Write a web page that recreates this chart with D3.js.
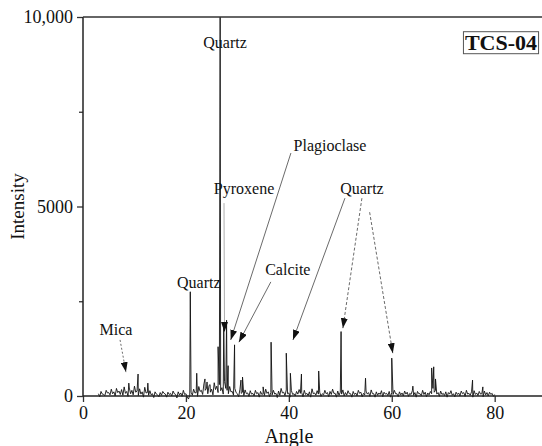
<!DOCTYPE html>
<html>
<head>
<meta charset="utf-8">
<script src="https://cdn.jsdelivr.net/npm/d3@7"></script>
<style>
body { margin: 0; background: #fff; }
text { font-family: "Liberation Serif", "Times New Roman", serif; }
</style>
</head>
<body>
<script>

var width = 542,
height = 446,
marginTop = 17,
marginLeft = 83,
marginBottom = 50;

// baseline noise, read every 0.5 degree from 3 to 80
var noiseStart = 3, noiseStep = 0.5;
var noise = [
 60, 120, 40, 150, 90, 180, 110, 200, 130, 170, 240, 120, 210, 150, 260, 130, 190, 110, 230, 90,
 140, 60, 110, 30, 90, 120, 50, 100, 70, 130, 40, 110, 80, 150, 60, -80,
 100, 180, 90, 250, 150, 320, 200, 280, 180, 350, 260, 300, 220, 380, 150, 250, 120, 200, 60, 180, 100, 160, 80, 140,
 70, 150, 90, 120, 60, 180, 110, 90, 150, 70, 130, 200, 100, 160, 80, 140, 60, 120, 170, 90, 150, 70, 110, 190, 80, 140, 100, 60, 150, 90, 120, 180, 70, 130, 100, 160,
 90, 140, 60, 120, 80, 150, 100, 70, 130, 90, 160, 60, 110, 80, 140, 100, 70, 120, 90, 150, 60, 110, 80, 130, 100, 70, 140, 90, 120, 60, 150, 100,
 80, 120, 200, 150, 90, 130, 70, 110, 90, 140, 60, 100, 80, 130, 90, 150, 70, 110, 140, 80, 120, 60, 130, 90, 100, 70, 40
];
// the in-between readings, from 3.25 to 79.75
var noiseMid = [
 -20, 50, 10, 80, 30, 60, 0, 90, 40, 20, 70, -10, 60, 30, 100, 10, 50, -30, 80, 20,
 30, -40, 50, -20, 20, 70, -30, 40, 0, 60, -50, 30, -10, 40, -20, 20,
 20, 80, -10, 120, 40, 150, 60, 100, 30, 170, 90, 140, 50, 200, 60, 110, 20, 90, -20, 70, 10, 60, -10, 50,
 0, 60, -30, 40, 10, 70, -20, 30, 50, -40, 20, 80, 10, 60, -30, 40, 0, 50, 70, -20, 40, 10, -30, 60, 20, 50, -10, 30, 60, -20, 40, 70, -30, 20, 50, 0,
 20, 60, -30, 40, 0, 70, -20, 30, 50, -10, 60, -30, 20, 40, -20, 50, 10, -30, 40, 60, -20, 30, 0, 50, -10, 40, 20, -30, 60, 10, 40, -20,
 30, 60, 100, 50, -10, 40, 10, -30, 50, 20, -20, 40, 0, 60, -10, 50, 20, -30, 40, 10, 50, -20, 30, 0, 40, -10
];

// peaks: angle, intensity
var peakAngles = [8.9, 10.7, 12.6, 20.85, 22.1, 23.7, 24.1, 24.7, 26.25, 26.65, 27.35, 27.9, 28.2, 29.45, 30.7, 31.0,
 35.0, 36.55, 39.5, 40.3, 42.45, 45.8, 50.15, 54.9, 60.0, 64.1, 67.75, 68.15, 68.5, 75.7, 77.7];
var peakValues = [340, 580, 340, 2750, 600, 450, 370, 300, 1300, 10000, 1800, 2000, 800, 1350, 420, 500,
 240, 1420, 1130, 600, 580, 660, 1700, 470, 1000, 260, 740, 770, 450, 420, 240];

var xTicks = [0, 20, 40, 60, 80];
var yTicks = [0, 5000, 10000];
var yMinorTicks = [2500, 7500];

// labels: text, angle, intensity of text centre
var labelText = ["Quartz", "Quartz", "Pyroxene", "Plagioclase", "Calcite", "Quartz", "Mica"];
var labelAngle = [27.6, 22.5, 31.3, 48.0, 39.8, 54.2, 6.4];
var labelValue = [9330, 3010, 5480, 6620, 3340, 5480, 1760];

// arrows: from (angle, intensity) to (angle, intensity)
var arrowFrom = [[7.2, 1480], [27.4, 5090], [40.4, 6410], [36.5, 3010], [50.9, 5220], [54.2, 5220], [55.7, 4850]];
var arrowTo = [[8.35, 630], [27.5, 1690], [28.7, 1480], [30.3, 1420], [40.8, 1480], [50.5, 1790], [60.2, 1130]];
var arrowDash = ["2,2", null, null, null, null, "3,2", "3,2"];

var spectrum = [];
noise.forEach(function (v, i) {
    spectrum.push({ a: noiseStart + i * noiseStep, v: v });
});
noiseMid.forEach(function (v, i) {
    spectrum.push({ a: noiseStart + noiseStep / 2 + i * noiseStep, v: v });
});
peakAngles.forEach(function (a, i) {
    spectrum.push({ a: a, v: peakValues[i] });
});
spectrum.sort(function (p, q) { return p.a - q.a; });

var x = d3.scaleLinear().domain([0, 89]).range([marginLeft, width - 1]);
var y = d3.scaleLinear().domain([0, 10000]).range([height - marginBottom, marginTop]);

var svg = d3.select("body").append("svg")
 .attr("width", width)
 .attr("height", height);

var defs = svg.append("defs");
defs.append("marker")
 .attr("id", "head")
 .attr("viewBox", "0 0 10 7")
 .attr("refX", 10)
 .attr("refY", 3.5)
 .attr("markerUnits", "userSpaceOnUse")
 .attr("markerWidth", 10)
 .attr("markerHeight", 7)
 .attr("orient", "auto")
 .append("path")
 .attr("d", "M0,0L10,3.5L0,7Z")
 .attr("fill", "#111");

// spectrum
svg.append("path")
 .datum(spectrum)
 .attr("fill", "none")
 .attr("stroke", "#111")
 .attr("stroke-width", 0.9)
 .attr("d", d3.line()
   .x(function (d) { return x(d.a); })
   .y(function (d) { return y(d.v); }));

// axes
var xAxis = svg.append("g")
 .attr("transform", "translate(0," + y(0) + ")")
 .call(d3.axisBottom(x).tickValues(xTicks).tickSize(6).tickPadding(4));
var yAxis = svg.append("g")
 .attr("transform", "translate(" + marginLeft + ",0)")
 .call(d3.axisLeft(y).tickValues(yTicks).tickSize(6).tickPadding(4)
   .tickFormat(function (d) { return d == 10000 ? "10,000" : d; }));
svg.append("g")
 .attr("transform", "translate(" + marginLeft + ",0)")
 .call(d3.axisLeft(y).tickValues(yMinorTicks).tickSize(4).tickFormat(""))
 .select(".domain").remove();

[xAxis, yAxis].forEach(function (g) {
    g.select(".domain").remove();
    g.selectAll("text")
     .attr("fill", "#111")
     .style("font-family", "'Liberation Serif', serif")
     .style("font-size", "18px");
});
svg.selectAll("g line").attr("stroke", "#333").attr("stroke-width", 1.3);

// axis lines and top frame
svg.append("line")
 .attr("x1", marginLeft).attr("x2", width)
 .attr("y1", y(0)).attr("y2", y(0))
 .attr("stroke", "#222").attr("stroke-width", 1.5);
svg.append("line")
 .attr("x1", marginLeft).attr("x2", marginLeft)
 .attr("y1", y(0)).attr("y2", y(10000))
 .attr("stroke", "#222").attr("stroke-width", 1.5);
svg.append("line")
 .attr("x1", marginLeft).attr("x2", width)
 .attr("y1", y(10000)).attr("y2", y(10000))
 .attr("stroke", "#333").attr("stroke-width", 1.3);

// axis titles
svg.append("text")
 .attr("x", x(40))
 .attr("y", height - 3)
 .attr("text-anchor", "middle")
 .style("font-size", "20px")
 .attr("fill", "#111")
 .text("Angle");
svg.append("text")
 .attr("transform", "translate(24," + y(5000) + ") rotate(-90)")
 .attr("text-anchor", "middle")
 .style("font-size", "19px")
 .attr("fill", "#111")
 .text("Intensity");

// annotation arrows
arrowFrom.forEach(function (f, i) {
    svg.append("line")
     .attr("x1", x(f[0])).attr("y1", y(f[1]))
     .attr("x2", x(arrowTo[i][0])).attr("y2", y(arrowTo[i][1]))
     .attr("stroke", i == 1 ? "#999" : "#444")
     .attr("stroke-width", 0.8)
     .attr("stroke-dasharray", arrowDash[i])
     .attr("marker-end", "url(#head)");
});

// annotation labels
labelText.forEach(function (t, i) {
    svg.append("text")
     .attr("x", x(labelAngle[i]))
     .attr("y", y(labelValue[i]))
     .attr("dy", "0.35em")
     .attr("text-anchor", "middle")
     .style("font-size", "16px")
     .attr("fill", "#111")
     .text(t);
});

// sample name box
var tag = svg.append("text")
 .attr("x", width - 41)
 .attr("y", 42)
 .attr("dy", "0.35em")
 .attr("text-anchor", "middle")
 .style("font-size", "22px")
 .style("font-weight", "bold")
 .attr("fill", "#111")
 .text("TCS-04");
var bb = tag.node().getBBox();
svg.append("rect")
 .attr("x", bb.x - 1.5)
 .attr("y", bb.y + 2)
 .attr("width", bb.width + 3)
 .attr("height", bb.height - 3)
 .attr("fill", "none")
 .attr("stroke", "#555")
 .attr("stroke-width", 1);

</script>
</body>
</html>
